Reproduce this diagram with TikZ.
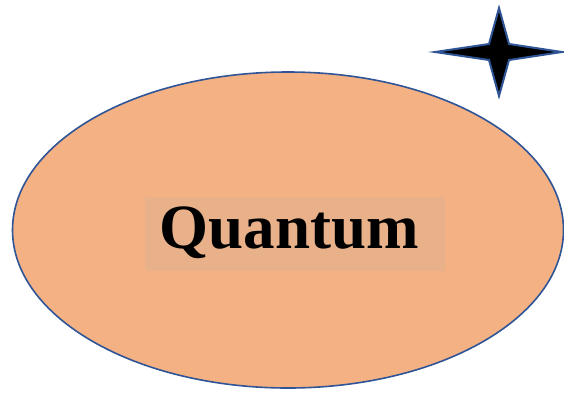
\documentclass[tikz,border=0pt]{standalone}
\usepackage{fontspec}
\setmainfont{Liberation Serif}
\usetikzlibrary{shapes.geometric,calc}
\definecolor{salmon}{HTML}{F4B183}
\definecolor{edgeblue}{HTML}{2F5597}
\definecolor{labelbg}{HTML}{E9B189}
\tikzset{
  blob/.style={ellipse, draw=edgeblue, line width=1.6pt, fill=salmon, minimum width=551pt, minimum height=316pt, inner sep=0pt},
  labelbox/.style={fill=labelbg, minimum width=300pt, minimum height=74pt, inner sep=0pt},
  starshape/.style={fill=black, draw=edgeblue, line width=2pt, line join=miter}
}
\begin{document}
\begin{tikzpicture}[x=1pt,y=-1pt]
\useasboundingbox (0,0) rectangle (564,392);
\node[blob] (oval) at (288,230) {};
\node[labelbox] (lbl) at (295,234) {};
\node[font=\fontsize{63}{72}\selectfont\bfseries, inner sep=0pt, anchor=base] (txt) at (289,248) {Quantum};
\coordinate (sc) at (499,52);
\draw[starshape] ($(sc)+(-64,0)$) -- ($(sc)+(-10,-8)$) -- ($(sc)+(0,-44)$) -- ($(sc)+(10,-8)$) -- ($(sc)+(63,0)$) -- ($(sc)+(10,8)$) -- ($(sc)+(0,44)$) -- ($(sc)+(-10,8)$) -- cycle;
\end{tikzpicture}
\end{document}
